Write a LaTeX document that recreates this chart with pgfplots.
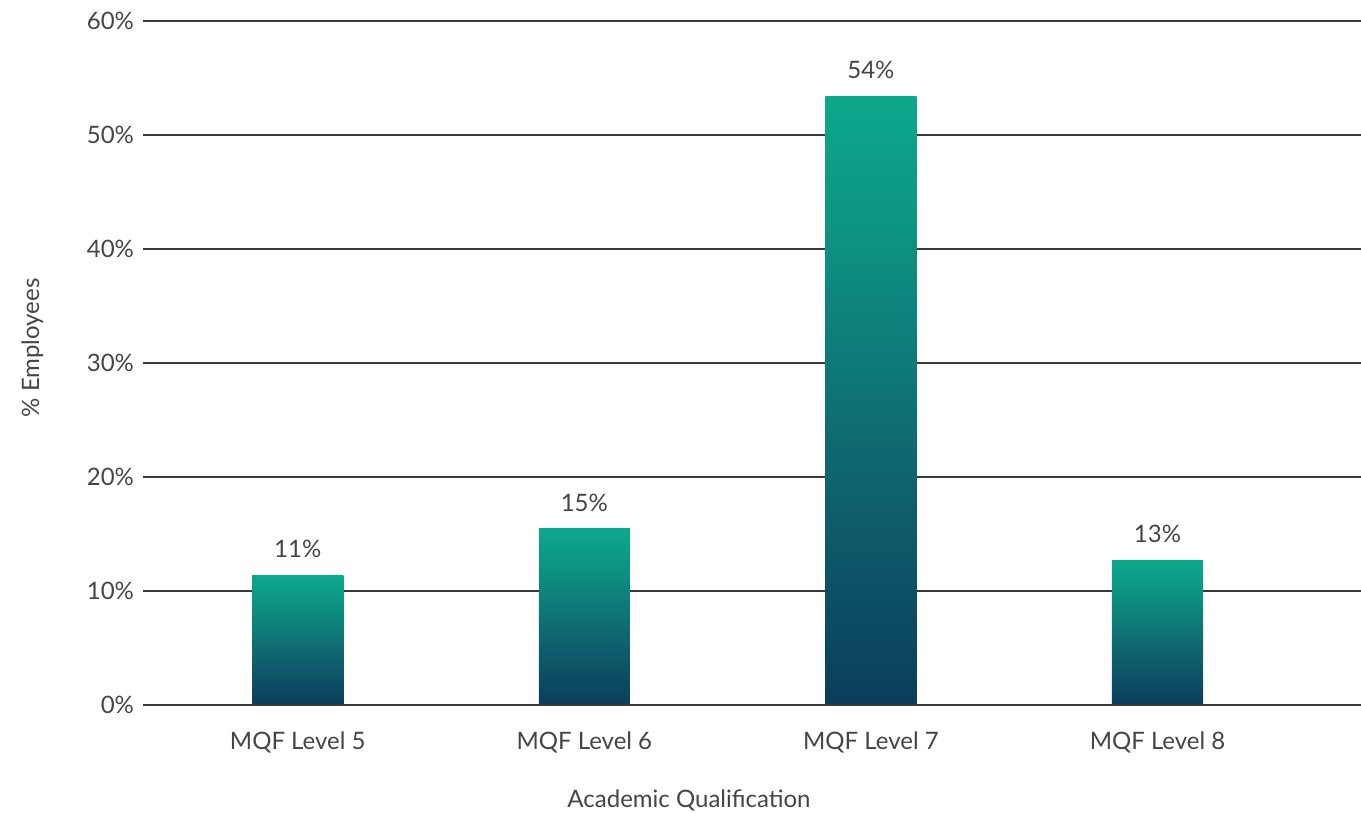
\documentclass[border=0pt]{standalone}
\usepackage{pgfplots}
\pgfplotsset{compat=1.18}
\usepackage{fontspec}
\setmainfont{Lato}
\definecolor{txt}{HTML}{454545}
\definecolor{gridc}{HTML}{3A3A3A}
\pgfdeclareverticalshading{barshade}{100bp}{rgb(0bp)=(0.04,0.24,0.36); rgb(25bp)=(0.04,0.24,0.36); rgb(45bp)=(0.06,0.40,0.44); rgb(62bp)=(0.05,0.56,0.50); rgb(75bp)=(0.05,0.66,0.55); rgb(100bp)=(0.05,0.66,0.55)}
\begin{document}
\begin{tikzpicture}
\path[use as bounding box] (-71.5pt,-54pt) rectangle (609pt,352.5pt);
\begin{axis}[
  at={(0,0)}, anchor=south west,
  scale only axis, width=609pt, height=342pt,
  xmin=-0.54, xmax=3.71, ymin=0, ymax=60,
  xtick={0,1,2,3},
  xticklabels={MQF Level 5,MQF Level 6,MQF Level 7,MQF Level 8},
  ytick={0,10,20,30,40,50,60},
  yticklabel={\pgfmathprintnumber{\tick}\%},
  /pgf/number format/assume math mode=true,
  axis line style={draw=none},
  major tick length=0pt,
  ymajorgrids, grid style={gridc, line width=0.8pt},
  tick label style={font=\fontsize{12}{14}\selectfont, text=txt},
  yticklabel style={xshift=-1pt},
  xticklabel style={yshift=-10pt},
  xlabel={Academic Qualification}, ylabel={\% Employees},
  label style={font=\fontsize{12}{14}\selectfont, text=txt},
  xlabel style={yshift=-11.5pt, xshift=-31.5pt},
  ylabel style={yshift=15pt, xshift=7.5pt},
  bar width=0.318, clip=false,
  nodes near coords style={font=\fontsize{12}{14}\selectfont, text=txt, yshift=5pt},
]
\addplot[ybar, bar shift=0pt, draw=none, shading=barshade, point meta=explicit symbolic, nodes near coords] coordinates {(0,11.4) [11\%]};
\addplot[ybar, bar shift=0pt, draw=none, shading=barshade, point meta=explicit symbolic, nodes near coords] coordinates {(1,15.5) [15\%]};
\addplot[ybar, bar shift=0pt, draw=none, shading=barshade, point meta=explicit symbolic, nodes near coords] coordinates {(2,53.4) [54\%]};
\addplot[ybar, bar shift=0pt, draw=none, shading=barshade, point meta=explicit symbolic, nodes near coords] coordinates {(3,12.7) [13\%]};
\draw[gridc, line width=0.8pt] (axis cs:-0.54,0) -- (axis cs:3.71,0);
\end{axis}
\end{tikzpicture}
\end{document}
